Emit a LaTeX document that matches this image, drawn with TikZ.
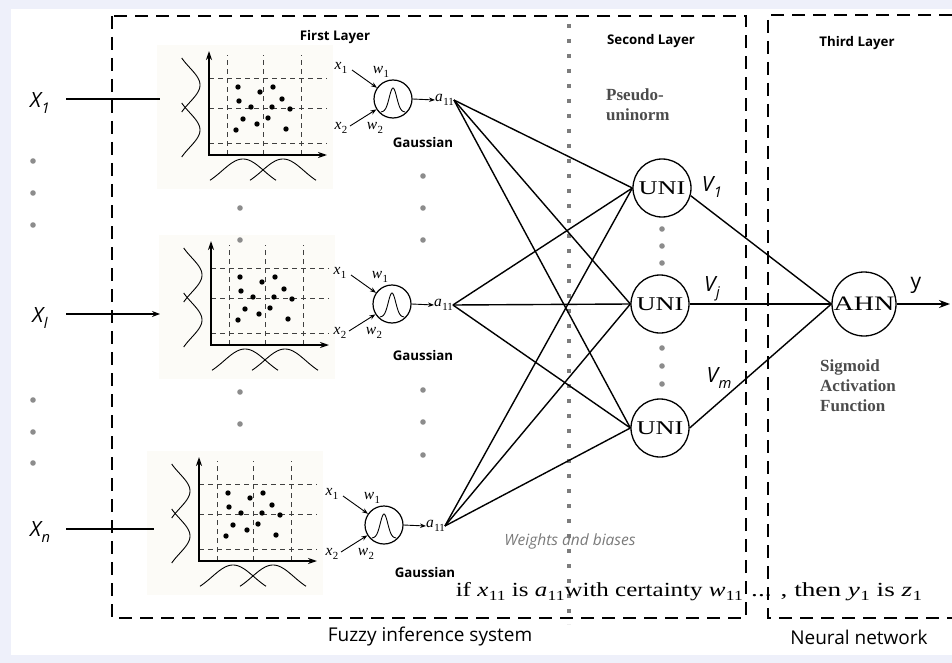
\documentclass[tikz,border=0pt]{standalone}
\usepackage{fontspec}
\setmainfont{Liberation Serif}
\newfontfamily\osans{Open Sans}
\usetikzlibrary{arrows.meta}

\definecolor{framebg}{HTML}{EEF0FA}
\definecolor{dotgray}{HTML}{8C8C8C}
\definecolor{sqgray}{HTML}{7C7C7C}
\definecolor{panelbg}{HTML}{FCFBF7}
\definecolor{notegray}{HTML}{4C4C4C}
\definecolor{wbgray}{HTML}{7A7A7A}

% italic variable with an upright subscript (serif and sans versions)
\newcommand{\subv}[2]{\textit{#1}\kern0.3pt\raisebox{-0.5ex}{\scalebox{0.7}{#2}}}
\newcommand{\sansv}[2]{{\osans\itshape #1\kern0.5pt\raisebox{-0.5ex}{\scalebox{0.7}{#2}}}}
% horizontally widened text
\newcommand{\widen}[2]{\scalebox{#1}[1]{#2}}

\tikzset{
  boxdash/.style={line width=2.4pt, dash pattern=on 13pt off 8pt},
  griddash/.style={line width=0.6pt, draw=black!75, dash pattern=on 5pt off 4pt},
  axisline/.style={line width=1.6pt},
  curve/.style={line width=0.9pt},
  link/.style={line width=1.4pt},
  inputline/.style={line width=2pt},
  inarrow/.style={line width=0.9pt, -{Stealth[length=6pt,width=4.5pt]}},
  gcirc/.style={circle, draw, line width=1.2pt, minimum size=38pt, inner sep=0pt},
  unicirc/.style={circle, draw, fill=white, line width=1.3pt, minimum size=58pt, inner sep=0pt,
    font=\fontsize{19.5}{19.5}\selectfont},
  mathlbl/.style={inner sep=0pt, font=\fontsize{15.5}{16}\selectfont},
  layerlbl/.style={inner sep=0pt, font=\osans\bfseries\fontsize{13.3}{15}\selectfont},
  notelbl/.style={inner sep=0pt, align=left, text=notegray,
    font=\bfseries\fontsize{17}{20}\selectfont},
  varlbl/.style={inner sep=0pt, font=\fontsize{21}{21}\selectfont},
  captionlbl/.style={inner sep=0pt, font=\osans\fontsize{19}{21}\selectfont},
  rulelbl/.style={inner sep=0pt, font=\fontsize{20}{22}\selectfont},
}

% scatter plot with Gaussian memberships on both axes; origin at the axes corner
\newcommand{\scatterpanel}[2]{%
\begin{scope}[shift={(#1,#2)}]
  \fill[panelbg] (-52,-110) rectangle (124,34);
  \foreach \gx in {18,54,92} \draw[griddash] (\gx,0) -- (\gx,-100);
  \foreach \gy in {-12,-47,-77} \draw[griddash] (0,\gy) -- (118,\gy);
  \draw[axisline,{Stealth[length=9pt,width=6pt]}-{Stealth[length=9pt,width=6pt]}]
    (0,-104) -- (0,0) -- (118,0);
  \foreach \dx/\dy in {29/-68,51/-63,64/-68,30/-54,42/-48,73/-56,63/-48,81/-46,
                       34/-36,59/-37,48/-31,27/-25,77/-26}
    \fill (\dx,\dy) circle (2.7pt);
  \foreach \c in {-70,-25}
    \draw[curve] plot[domain=-27:27,samples=40] ({-35+26*exp(-(\x)^2/600)},{\c+\x});
  \foreach \c in {34,74}
    \draw[curve] plot[domain=-33:33,samples=40] ({\c+\x},{34-30*exp(-(\x)^2/882)});
\end{scope}}

% Gaussian neuron with two weighted inputs and output a11
\newcommand{\gaussneuron}[3]{%
\begin{scope}[shift={(#2,#3)}]
  \node[gcirc] (g#1) at (0,0) {};
  \draw[curve] plot[domain=-12:12,samples=30] (\x,{13-24*exp(-(\x)^2/28)});
  \node[mathlbl] (xa#1) at (-52,-31) {\subv{x}{1}};
  \node[mathlbl] (wa#1) at (-12,-27) {\subv{w}{1}};
  \node[mathlbl] (xb#1) at (-52,29) {\subv{x}{2}};
  \node[mathlbl] (wb#1) at (-18,29) {\subv{w}{2}};
  \coordinate (ta#1) at (-41,-29);
  \coordinate (tb#1) at (-43,27);
  \draw[inarrow] (ta#1) -- (g#1.145);
  \draw[inarrow] (tb#1) -- (g#1.212);
  \node[mathlbl, anchor=west] (a#1) at (42,1) {\subv{a}{11}};
  \draw[inarrow] (g#1.east) -- (a#1.west);
\end{scope}}

\begin{document}
\begin{tikzpicture}[x=1pt, y=-1pt]
  \useasboundingbox (0,0) rectangle (952,663);
  \fill[framebg] (0,0) rectangle (952,663);
  \fill[white] (11,9) rectangle (952,655);

  % first layer: fuzzification panels
  \scatterpanel{209}{155}
  \scatterpanel{211}{345}
  \scatterpanel{199}{561}
  \gaussneuron{1}{393}{99}
  \gaussneuron{2}{392}{304}
  \gaussneuron{3}{384}{525}

  \node[layerlbl] (glab1) at (423,143) {Gaussian};
  \node[layerlbl] (glab2) at (423,356) {Gaussian};
  \node[layerlbl] (glab3) at (425,573) {Gaussian};

  % separator between weights and pseudo-uninorms
  \draw[sqgray, line width=4pt, dash pattern=on 4pt off 11pt] (569,24) -- (569,624);

  % system boundaries
  \draw[boxdash] (112,16) rectangle (746,618);
  \draw[boxdash] (952,15) -- (768,15) -- (768,618) -- (952,618);

  % layer titles
  \node[layerlbl] (l1) at (335,37) {First Layer};
  \node[layerlbl] (l2) at (651,41) {Second Layer};
  \node[layerlbl] (l3) at (857,43) {Third Layer};
  \node[notelbl, anchor=north west] (pu) at (606,89) {Pseudo-\\uninorm};
  \node[notelbl, anchor=north west] (sig) at (820,360) {Sigmoid\\Activation\\Function};

  % inputs
  \node[varlbl] (X1) at (40,103) {\sansv{X}{1}};
  \node[varlbl] (Xl) at (40,318) {\sansv{X}{\itshape l}};
  \node[varlbl] (Xn) at (40,532) {\sansv{X}{\itshape n}};
  \coordinate (s1) at (66,99);  \coordinate (e1) at (160,99);
  \coordinate (s2) at (66,314); \coordinate (e2) at (160,314);
  \coordinate (s3) at (66,529); \coordinate (e3) at (154,529);
  \draw[inputline] (s1) -- (e1);
  \draw[inputline, -{Stealth[length=8pt,width=6pt]}] (s2) -- (e2);
  \draw[inputline] (s3) -- (e3);

  % ellipsis dots
  \foreach \px/\py in {33/161,33/193,33/225,33/400,33/432,33/463,
                       240/208,240/240,240/392,240/424,
                       423/176,423/208,423/240,423/390,423/422,423/455,
                       662/229,662/246,662/263,662/348,662/366,662/384}
    \fill[dotgray] (\px,\py) circle (2.8pt);

  % second layer
  \node[unicirc] (u1) at (662,188) {\widen{1.35}{UNI}};
  \node[unicirc] (u2) at (660,304) {\widen{1.35}{UNI}};
  \node[unicirc] (u3) at (660,428) {\widen{1.35}{UNI}};
  \foreach \i in {1,2,3}
    \foreach \j in {1,2,3}
      \draw[link] (a\i.east) -- (u\j.west);

  % third layer
  \node[unicirc, minimum size=64pt, font=\fontsize{20.5}{20.5}\selectfont] (ahn) at (864,304)
    {\widen{1.37}{AHN}};
  \draw[link] (u1.-15) -- (ahn.west);
  \draw[link] (u2) -- (ahn.west);
  \draw[link] (u3.east) -- (ahn.west);
  \coordinate (yout) at (950,304);
  \draw[link, -{Stealth[length=11pt,width=8pt]}] (ahn) -- (yout);

  \node[varlbl] (v1) at (712,187) {\sansv{V}{1}};
  \node[varlbl] (vj) at (712,289) {\sansv{V}{\itshape j}};
  \node[varlbl] (vm) at (719,378) {\sansv{V}{\itshape m}};
  \node[varlbl] (ylab) at (916,285) {\osans y};

  % annotations
  \node[inner sep=0pt, text=wbgray, font=\osans\itshape\fontsize{15.5}{17}\selectfont]
    (wb) at (570,541) {Weights and biases};
  \node[rulelbl, anchor=base east] (rulea) at (743,596)
    {\widen{1.25}{if \subv{x}{11} is \subv{a}{11}with certainty \subv{w}{11}}};
  \node[rulelbl, anchor=base west] (ruleb) at (751,596)
    {\widen{1.36}{... , then \subv{y}{1} is \subv{z}{1}}};
  \node[captionlbl] (fis) at (430,637) {Fuzzy inference system};
  \node[captionlbl] (nn) at (859,637) {Neural network};
\end{tikzpicture}
\end{document}
